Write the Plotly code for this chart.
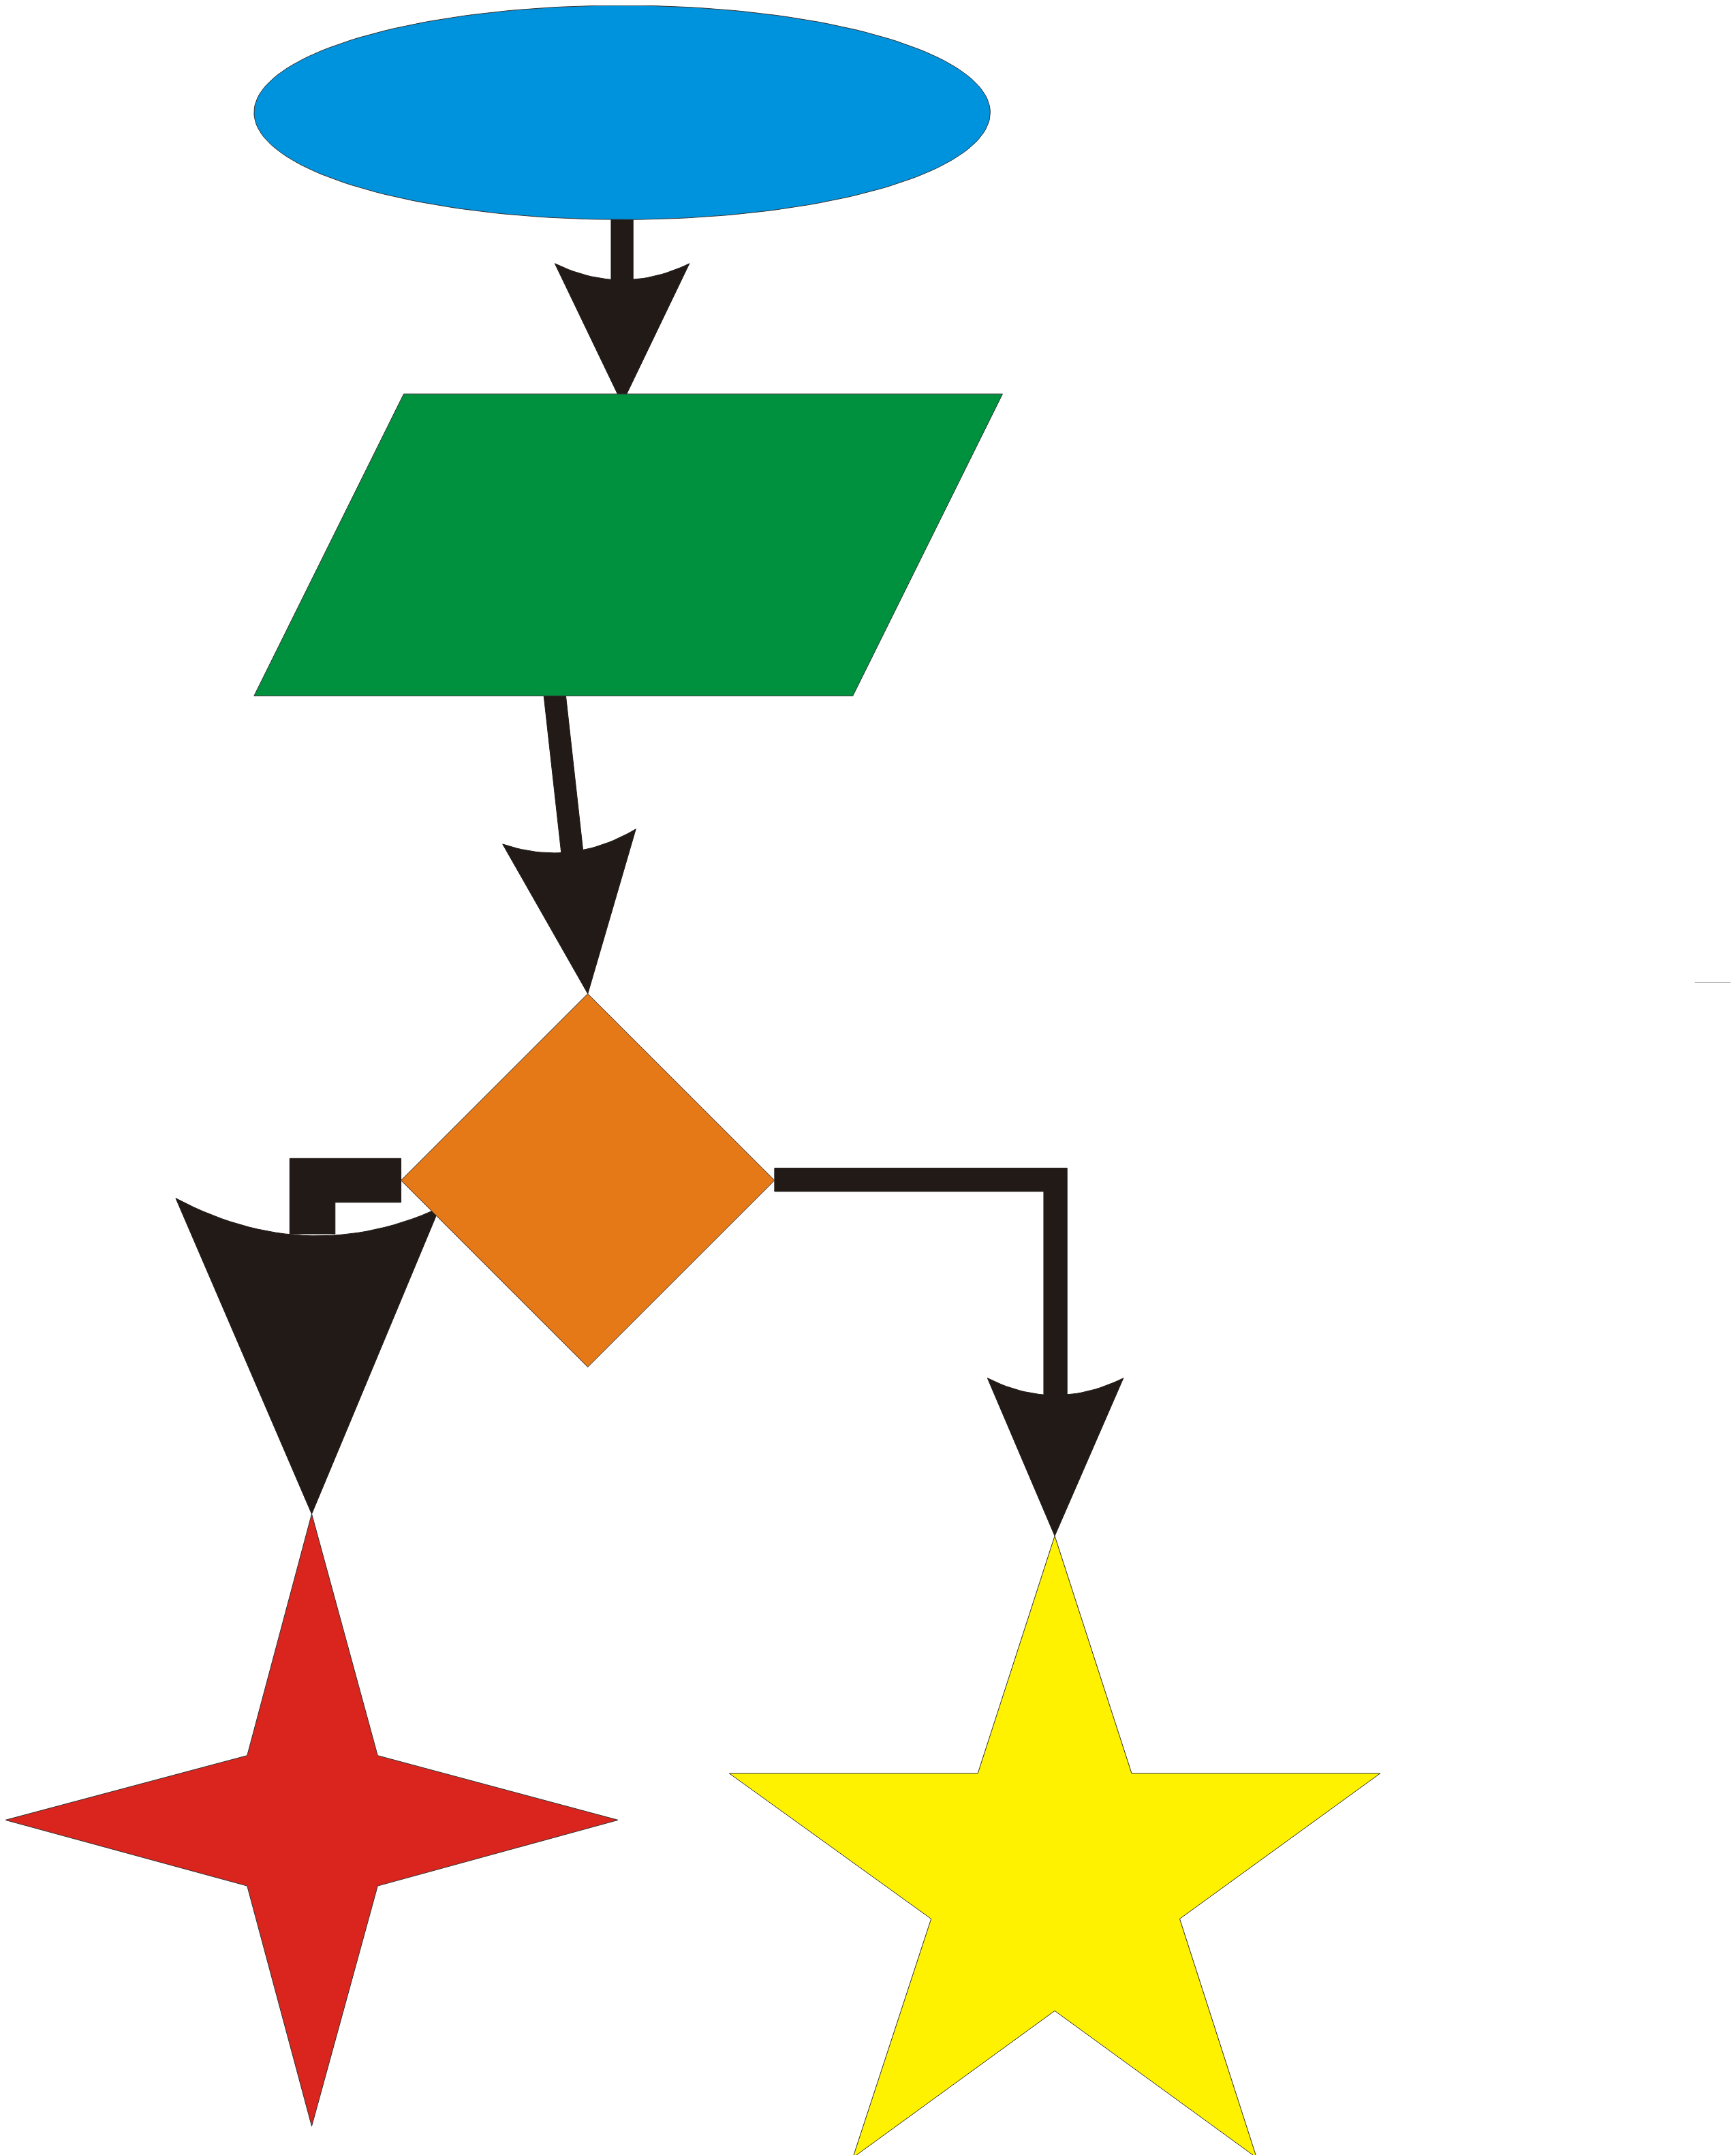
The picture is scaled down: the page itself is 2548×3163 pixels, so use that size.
import numpy as np
import plotly.graph_objects as go

# vertex lists (drawing units, y grows downwards)
ellipse_c = (449, 78)
ellipse_r = (268, 78)
para_x = [290, 726, 617, 181, 290]
para_y = [283, 283, 503, 503, 283]
diamond_x = [424, 560, 424, 288, 424]
diamond_y = [720, 856, 992, 856, 720]
star4_x = [223, 271, 446, 271, 223, 176, 0, 176, 223]
star4_y = [1099, 1275, 1322, 1370, 1545, 1370, 1322, 1275, 1099]
star5_x = [764, 820, 1001, 855, 911, 764, 617, 674, 527, 708, 764]
star5_y = [1115, 1288, 1288, 1394, 1568, 1461, 1568, 1394, 1288, 1288, 1115]
shaft1_x = [441, 457, 457, 441, 441]
shaft1_y = [155, 155, 205, 205, 155]
shaft2_x = [392, 408, 421, 405, 392]
shaft2_y = [503, 503, 620, 620, 503]
elbowL_x = [288, 207, 207, 240, 240, 288, 288]
elbowL_y = [840, 840, 895, 895, 872, 872, 840]
elbowR_x = [560, 773, 773, 756, 756, 560, 560]
elbowR_y = [847, 847, 1015, 1015, 864, 864, 847]
# arrowheads: left wing, curve control, right wing, tip
heads = [
    ((400, 188), (449, 212), (498, 188), (449, 290)),
    ((362, 611), (412, 628), (459, 600), (424, 720)),
    ((124, 869), (220, 920), (316, 876), (223, 1099)),
    ((715, 1000), (764, 1025), (814, 1000), (764, 1115)),
]

DARK = "#211A17"
fig = go.Figure()


def poly(x, y, fill, line="#333333", lw=1):
    fig.add_trace(go.Scatter(x=x, y=y, mode="lines", fill="toself", fillcolor=fill,
                             line=dict(color=line, width=lw), hoverinfo="skip"))


def head(a, c, b, tip):
    t = np.linspace(0, 1, 30)
    cx = (1 - t) ** 2 * a[0] + 2 * (1 - t) * t * c[0] + t ** 2 * b[0]
    cy = (1 - t) ** 2 * a[1] + 2 * (1 - t) * t * c[1] + t ** 2 * b[1]
    poly(list(cx) + [tip[0], a[0]], list(cy) + [tip[1], a[1]], DARK, DARK, 1)


# connectors first, shapes on top
poly(shaft1_x, shaft1_y, DARK, DARK)
poly(shaft2_x, shaft2_y, DARK, DARK)
poly(elbowL_x, elbowL_y, DARK, DARK)
poly(elbowR_x, elbowR_y, DARK, DARK)
for h in heads:
    head(*h)

th = np.linspace(0, 2 * np.pi, 200)
poly(ellipse_c[0] + ellipse_r[0] * np.cos(th), ellipse_c[1] + ellipse_r[1] * np.sin(th), "#0093DD")
poly(para_x, para_y, "#00913F")
poly(diamond_x, diamond_y, "#E57817")
poly(star4_x, star4_y, "#D9251D")
poly(star5_x, star5_y, "#FFF200")
fig.add_trace(go.Scatter(x=[1230, 1263], y=[712, 712], mode="lines",
                         line=dict(color="#888888", width=1), hoverinfo="skip"))

fig.update_layout(width=2548, height=3163, margin=dict(l=0, r=0, t=0, b=0),
                  plot_bgcolor="white", paper_bgcolor="white", showlegend=False,
                  xaxis=dict(range=[0, 1264], visible=False),
                  yaxis=dict(range=[1570, 0], visible=False))
fig.write_html("out.html")
